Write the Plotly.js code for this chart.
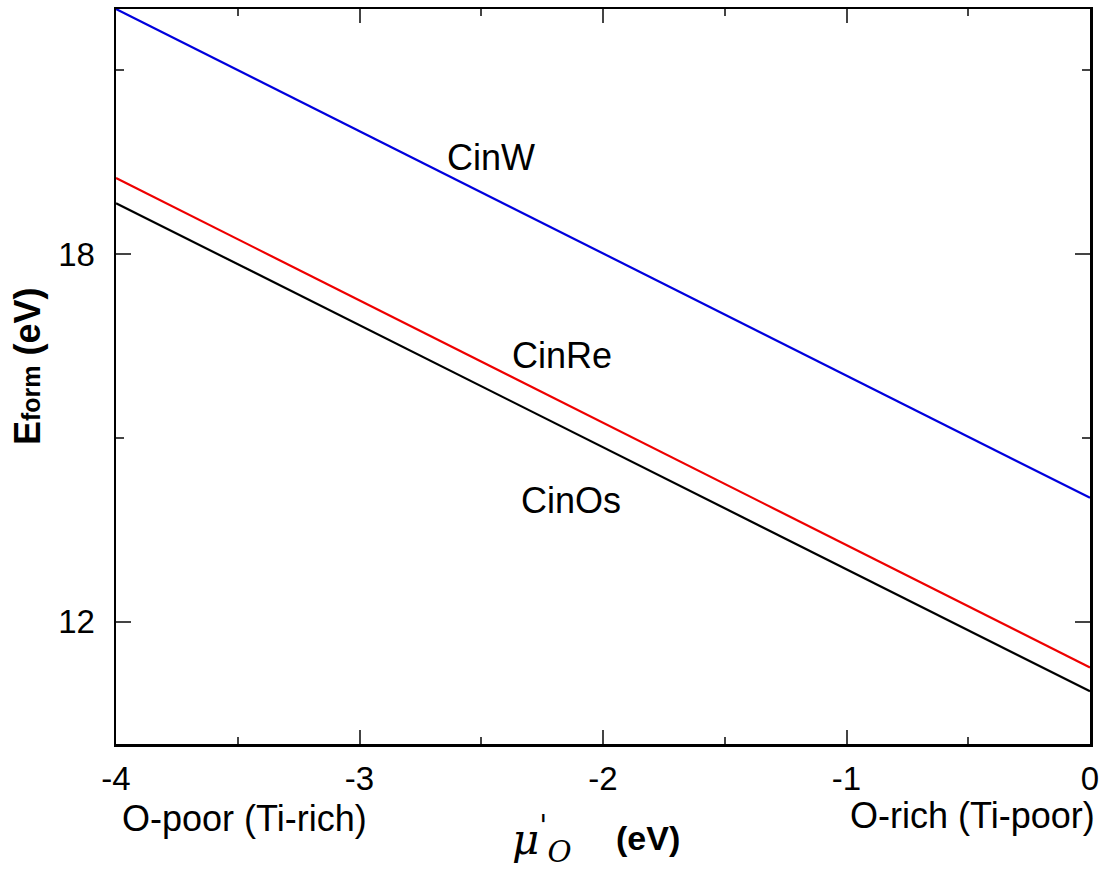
<!DOCTYPE html>
<html>
<head>
<meta charset="utf-8">
<script src="https://cdn.plot.ly/plotly-3.0.1.min.js"></script>
<style>html,body{margin:0;padding:0;background:#fff;}#chart{width:1107px;height:869px;}</style>
</head>
<body>
<div id="chart"></div>
<script>
// chemical potential of O (eV)
const muO = [-4, 0];
// formation energies (eV)
const cinW = [22.0, 14.02];
const cinRe = [19.24, 11.25];
const cinOs = [18.83, 10.86];
const seriesNames = ["CinW", "CinRe", "CinOs"];
const seriesColors = ["#0000dd", "#ee0000", "#000000"];
const xTickVals = [-4, -3, -2, -1, 0];
const xTickText = ["-4", "-3", "-2", "-1", "0"];
const yTickVals = [12, 18];
const yTickText = ["12", "18"];

const F = "Liberation Sans, Arial, sans-serif";
const traces = [cinW, cinRe, cinOs].map((ys, i) => ({
  x: muO, y: ys, type: "scatter", mode: "lines", name: seriesNames[i],
  line: {color: seriesColors[i], width: 2.2}, showlegend: false
}));

const layout = {
  width: 1107, height: 869,
  margin: {l: 116, r: 17, t: 9, b: 125},
  paper_bgcolor: "#fff", plot_bgcolor: "#fff",
  font: {family: F, size: 33, color: "#000"},
  xaxis: {
    range: [-4, 0], tickvals: xTickVals, ticktext: xTickText, ticks: "inside", ticklen: 14, tickwidth: 2,
    minor: {dtick: 0.5, tick0: 0, ticks: "inside", ticklen: 7, tickwidth: 2, showgrid: false},
    showline: true, linewidth: 2.5, linecolor: "#000", mirror: "allticks",
    showgrid: false, zeroline: false, tickfont: {family: F, size: 33},
    ticklabelstandoff: 4
  },
  yaxis: {
    range: [10, 22], tickvals: yTickVals, ticktext: yTickText, ticks: "inside", ticklen: 15, tickwidth: 2,
    minor: {dtick: 3, tick0: 0, ticks: "inside", ticklen: 8, tickwidth: 2, showgrid: false},
    showline: true, linewidth: 2.5, linecolor: "#000", mirror: "allticks",
    showgrid: false, zeroline: false, tickfont: {family: F, size: 33},
    ticklabelstandoff: 12
  },
  annotations: [
    {text: "CinW", x: -2.46, y: 19.57, xref: "x", yref: "y", showarrow: false, font: {family: F, size: 36}},
    {text: "CinRe", x: -2.17, y: 16.35, xref: "x", yref: "y", showarrow: false, font: {family: F, size: 36}},
    {text: "CinOs", x: -2.13, y: 13.98, xref: "x", yref: "y", showarrow: false, font: {family: F, size: 36}},
    {text: "O-poor (Ti-rich)", x: (120-116)/974, y: 1-(819-9)/735, xref: "paper", yref: "paper",
     xanchor: "left", yanchor: "middle", showarrow: false, font: {family: F, size: 36}},
    {text: "O-rich (Ti-poor)", x: (1097-116)/974, y: 1-(815-9)/735, xref: "paper", yref: "paper",
     xanchor: "right", yanchor: "middle", showarrow: false, font: {family: F, size: 36}},
    {text: "<i>μ</i><sup>'</sup><sub><i>O</i></sub>", x: (542-116)/974, y: 1-(839-9)/735, xref: "paper", yref: "paper",
     xanchor: "center", yanchor: "middle", showarrow: false, borderpad: 0,
     font: {family: "DejaVu Serif, serif", size: 42}},
    {text: "<b>(eV)</b>", x: (648-116)/974, y: 1-(838-9)/735, xref: "paper", yref: "paper",
     xanchor: "center", yanchor: "middle", showarrow: false, font: {family: F, size: 34}},
    {text: "<b>E<span style='font-size:25px'>form</span> (eV)</b>", x: (27-116)/974, y: 1-(366-9)/735,
     xref: "paper", yref: "paper", xanchor: "center", yanchor: "middle", textangle: -90,
     showarrow: false, font: {family: F, size: 36}}
  ]
};
Plotly.newPlot("chart", traces, layout, {displayModeBar: false, staticPlot: true});
</script>
</body>
</html>
